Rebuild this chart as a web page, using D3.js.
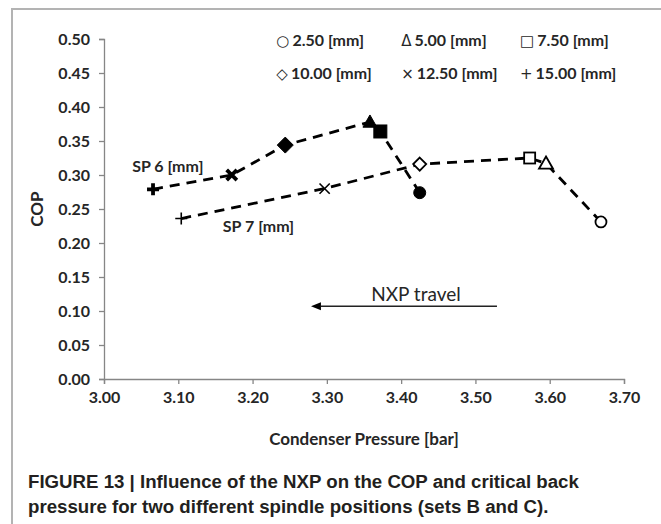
<!DOCTYPE html>
<html><head><meta charset="utf-8">
<script src="https://cdn.jsdelivr.net/npm/d3@7"></script>
<style>body{margin:0;background:#fff}svg{display:block}</style>
</head><body><svg id="c" width="661" height="524"></svg>
<script>
// ---- data ----
const xTicks = [3.00, 3.10, 3.20, 3.30, 3.40, 3.50, 3.60, 3.70];
const yTicks = [0.00, 0.05, 0.10, 0.15, 0.20, 0.25, 0.30, 0.35, 0.40, 0.45, 0.50];
const nxpLabels = ["2.50 [mm]", "5.00 [mm]", "7.50 [mm]", "10.00 [mm]", "12.50 [mm]", "15.00 [mm]"];
const legendGlyphs = ["○", "Δ", "□", "◇", "×", "+"];
// SP 6 (filled markers)
const sp6Nxp = [15.00, 12.50, 10.00, 5.00, 7.50, 2.50];
const sp6X   = [3.066, 3.172, 3.244, 3.358, 3.372, 3.425];
const sp6Y   = [0.279, 0.300, 0.344, 0.378, 0.364, 0.274];
// SP 7 (open markers)
const sp7Nxp = [15.00, 12.50, 10.00, 7.50, 5.00, 2.50];
const sp7X   = [3.104, 3.297, 3.425, 3.573, 3.595, 3.669];
const sp7Y   = [0.236, 0.280, 0.316, 0.325, 0.317, 0.231];
const captionLines = ["FIGURE 13 | Influence of the NXP on the COP and critical back",
                      "pressure for two different spindle positions (sets B and C)."];

const svg = d3.select("#c");
const FONT = "Lato, 'Open Sans', sans-serif";
const TXT = "#262626";

// frame
svg.append("path").attr("d","M12,524 V9 H661").attr("fill","none").attr("stroke","#b3b3b3").attr("stroke-width",2);

const x = d3.scaleLinear().domain([3.0, 3.7]).range([104, 624]);
const y = d3.scaleLinear().domain([0, 0.5]).range([379, 39]);

const xAxis = svg.append("g").attr("transform",`translate(0,${y(0)})`)
  .call(d3.axisBottom(x).tickValues(xTicks).tickFormat(d3.format(".2f")).tickSizeOuter(0).tickSize(5).tickPadding(8));
const yAxis = svg.append("g").attr("transform",`translate(${x(3.0)},0)`)
  .call(d3.axisLeft(y).tickValues(yTicks).tickFormat(d3.format(".2f")).tickSizeOuter(0).tickSize(5).tickPadding(9));
[xAxis, yAxis].forEach(g => {
  g.select(".domain").attr("stroke","#868686").attr("stroke-width",1.3);
  g.selectAll(".tick line").attr("stroke","#868686").attr("stroke-width",1.3);
  g.selectAll(".tick text").attr("font-family",FONT).attr("font-weight","bold").attr("font-size",16).attr("fill",TXT);
});

// axis titles
svg.append("text").attr("x",(x(3.0)+x(3.7))/2).attr("y",445).attr("text-anchor","middle")
  .attr("font-family",FONT).attr("font-weight","bold").attr("font-size",17).attr("fill",TXT).text("Condenser Pressure [bar]");
svg.append("text").attr("transform",`translate(43,${y(0.25)}) rotate(-90)`).attr("text-anchor","middle")
  .attr("font-family",FONT).attr("font-weight","bold").attr("font-size",17).attr("fill",TXT).text("COP");

// lines
const line = d3.line().x(d => x(d[0])).y(d => y(d[1]));
const sp6 = sp6X.map((v,i) => [v, sp6Y[i], sp6Nxp[i]]);
const sp7 = sp7X.map((v,i) => [v, sp7Y[i], sp7Nxp[i]]);
[sp6, sp7].forEach(s => {
  svg.append("path").attr("d", line(s)).attr("fill","none").attr("stroke","#000")
    .attr("stroke-width",2.8).attr("stroke-dasharray","10,7");
});

// markers
function marker(g, nxp, filled, cx, cy) {
  const c = "#000";
  const sw = filled ? 3.8 : 1.6;
  const r = 6;
  if (nxp === 15.00) { // plus
    g.append("path").attr("d",`M${cx-r},${cy}H${cx+r}M${cx},${cy-r}V${cy+r}`).attr("stroke",c).attr("stroke-width",sw);
  } else if (nxp === 12.50) { // cross
    const q = r*0.85;
    g.append("path").attr("d",`M${cx-q},${cy-q}L${cx+q},${cy+q}M${cx-q},${cy+q}L${cx+q},${cy-q}`).attr("stroke",c).attr("stroke-width",sw);
  } else if (nxp === 10.00) { // diamond
    const q = filled ? 8 : 6.5;
    g.append("path").attr("d",`M${cx},${cy-q}L${cx+q},${cy}L${cx},${cy+q}L${cx-q},${cy}Z`)
      .attr("fill",filled?c:"#fff").attr("stroke",c).attr("stroke-width",filled?1:1.8);
  } else if (nxp === 5.00) { // triangle
    const q = 7;
    g.append("path").attr("d",`M${cx},${cy-q}L${cx+q},${cy+q*0.75}L${cx-q},${cy+q*0.75}Z`)
      .attr("fill",filled?c:"#fff").attr("stroke",c).attr("stroke-width",filled?1:1.8);
  } else if (nxp === 7.50) { // square
    const q = filled ? 6.5 : 5.5;
    g.append("rect").attr("x",cx-q).attr("y",cy-q).attr("width",2*q).attr("height",2*q)
      .attr("fill",filled?c:"#fff").attr("stroke",c).attr("stroke-width",filled?1:1.8);
  } else { // circle
    g.append("circle").attr("cx",cx).attr("cy",cy).attr("r",filled?6:5.5)
      .attr("fill",filled?c:"#fff").attr("stroke",c).attr("stroke-width",filled?1:1.8);
  }
}
const mg = svg.append("g");
sp6.forEach(d => marker(mg, d[2], true, x(d[0]), y(d[1])));
sp7.forEach(d => marker(mg, d[2], false, x(d[0]), y(d[1])));

// series labels
svg.append("text").attr("x",x(3.038)).attr("y",y(0.305)).attr("font-family",FONT).attr("font-weight","bold")
  .attr("font-size",16).attr("fill",TXT).text("SP 6 [mm]");
svg.append("text").attr("x",x(3.160)).attr("y",y(0.216)).attr("font-family",FONT).attr("font-weight","bold")
  .attr("font-size",16).attr("fill",TXT).text("SP 7 [mm]");

// legend
const legX = [x(3.232), x(3.40), x(3.56)];
const legY = [40, 73];
nxpLabels.forEach((lab, i) => {
  const t = svg.append("text").attr("x", legX[i%3]).attr("y", legY[Math.floor(i/3)]).attr("dy","0.35em")
    .attr("font-family",FONT).attr("font-weight","bold").attr("font-size",16).attr("fill",TXT);
  t.append("tspan").attr("font-family","'DejaVu Sans', sans-serif").attr("font-weight","normal").attr("font-size",15).text(legendGlyphs[i]);
  t.append("tspan").attr("dx",3).text(lab);
});

// NXP travel arrow
svg.append("defs").append("marker").attr("id","ah").attr("viewBox","0 0 10 10").attr("refX",0).attr("refY",5)
  .attr("markerWidth",10).attr("markerHeight",10).attr("markerUnits","userSpaceOnUse").attr("orient","auto-start-reverse")
  .append("path").attr("d","M0,1L10,5L0,9Z").attr("fill","#000");
svg.append("line").attr("x1",x(3.529)).attr("x2",x(3.292)).attr("y1",y(0.107)).attr("y2",y(0.107))
  .attr("stroke","#222").attr("stroke-width",1.4).attr("marker-end","url(#ah)");
svg.append("text").attr("x",x(3.42)).attr("y",y(0.115)).attr("text-anchor","middle")
  .attr("font-family",FONT).attr("font-size",19).attr("fill",TXT).text("NXP travel");

// caption
const cap = svg.append("g");
captionLines.forEach((t,i) => {
  cap.append("text").attr("x",28).attr("y",488 + i*25).attr("font-family","'Liberation Sans', Arial, sans-serif")
    .attr("font-weight","bold").attr("font-size",16).attr("fill","#231f20").text(t);
});
const w0 = cap.select("text").node().getComputedTextLength();
const fs = 16 * 551 / w0;
cap.selectAll("text").attr("font-size", fs);
</script></body></html>
